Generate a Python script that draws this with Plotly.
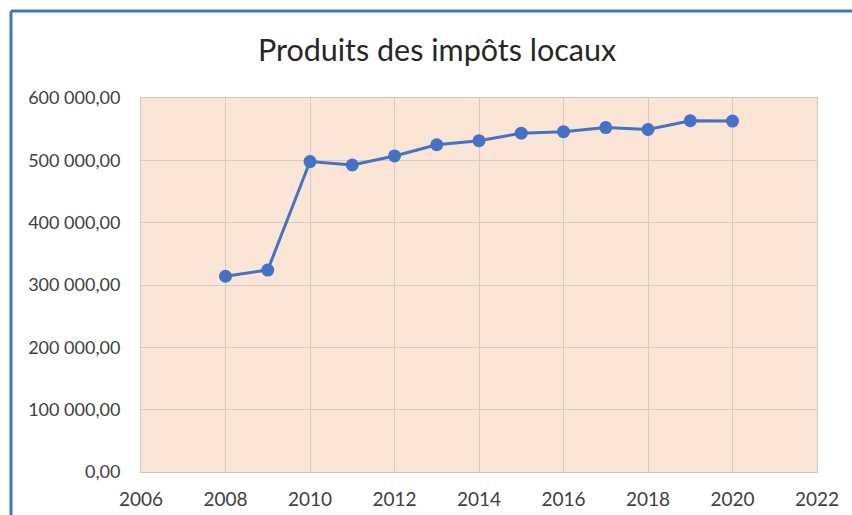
import plotly.graph_objects as go

years = [2008, 2009, 2010, 2011, 2012, 2013, 2014, 2015, 2016, 2017, 2018, 2019, 2020]
values = [314000, 324000, 498000, 492500, 507000, 525000, 531500, 543500, 546000, 552500, 549500, 563500, 563000]

y_tickvals = [0, 100000, 200000, 300000, 400000, 500000, 600000]
y_ticktext = ["0,00", "100 000,00", "200 000,00", "300 000,00", "400 000,00", "500 000,00", "600 000,00"]
x_tickvals = [2006, 2008, 2010, 2012, 2014, 2016, 2018, 2020, 2022]
x_ticktext = [str(v) for v in x_tickvals]

title_text = "Produits des impôts locaux"

blue = "#4472C4"
grid = "#D6CCC3"
font_family = "Lato, 'Open Sans', sans-serif"

fig = go.Figure()
fig.add_trace(go.Scatter(
    x=years, y=values, mode="lines+markers",
    line=dict(color=blue, width=3),
    marker=dict(color=blue, size=13),
    showlegend=False,
))

L, R, T, B = 141, 35, 98, 43
W, H = 852, 515
pw = W - L - R
ph = H - T - B

def px_to_paper_x(px):
    return (px - L) / pw

def px_to_paper_y(py):
    return (H - B - py) / ph

fig.update_layout(
    width=W, height=H,
    margin=dict(l=L, r=R, t=T, b=B, autoexpand=False),
    paper_bgcolor="white",
    plot_bgcolor="#FBE5D6",
    title=dict(text=title_text, x=(437) / W, xanchor="center", y=1 - 50 / H, yanchor="middle",
               font=dict(family=font_family, size=30.5, color="#262626")),
    font=dict(family=font_family, size=19, color="#404040"),
    xaxis=dict(range=[2006, 2022], tickvals=x_tickvals, ticktext=x_ticktext,
               showgrid=True, gridcolor=grid, gridwidth=1, zeroline=False,
               showline=True, linecolor="#D0C8C0", mirror=True, automargin=False,
               ticks="outside", ticklen=10, tickcolor="rgba(0,0,0,0)",
               tickfont=dict(size=19, color="#404040")),
    yaxis=dict(range=[0, 600000], tickvals=y_tickvals, ticktext=y_ticktext,
               showgrid=True, gridcolor=grid, gridwidth=1, zeroline=False,
               showline=True, linecolor="#D0C8C0", mirror=True, automargin=False,
               ticks="outside", ticklen=16, tickcolor="rgba(0,0,0,0)",
               tickfont=dict(size=18, color="#404040")),
    shapes=[
        dict(type="line", xref="paper", yref="paper",
             x0=px_to_paper_x(11), x1=px_to_paper_x(W + 5),
             y0=px_to_paper_y(11), y1=px_to_paper_y(11),
             line=dict(color=blue, width=3)),
        dict(type="line", xref="paper", yref="paper",
             x0=px_to_paper_x(11), x1=px_to_paper_x(11),
             y0=px_to_paper_y(11), y1=px_to_paper_y(H + 5),
             line=dict(color=blue, width=3)),
    ],
)

fig.write_html("out.html", config={"displayModeBar": False},
               post_script="document.body.style.margin='0';document.body.style.overflow='hidden';")
